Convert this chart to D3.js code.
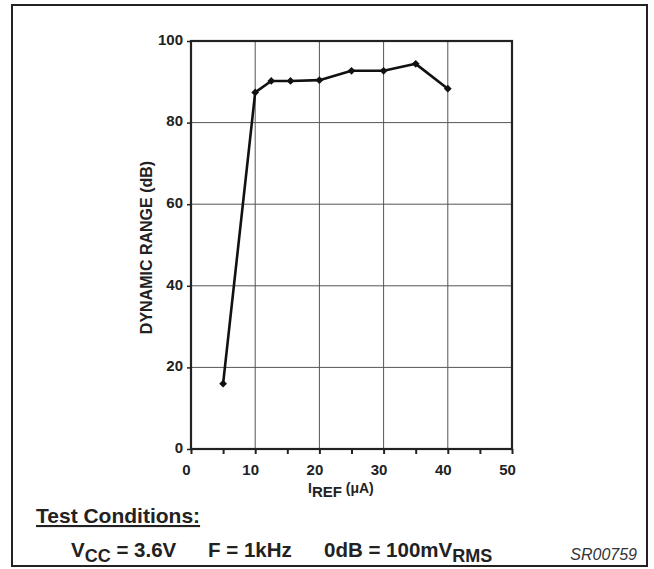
<!DOCTYPE html>
<html><head><meta charset="utf-8">
<script src="https://cdn.jsdelivr.net/npm/d3@7"></script>
<style>
body{margin:0;background:#fff;}
svg{display:block;font-family:"Liberation Sans",Arial,sans-serif;}
</style></head>
<body><svg id="c" width="654" height="569"></svg>
<script>
const iref = [5, 10, 12.5, 15.5, 20, 25, 30, 35, 40];
const dynRange = [16, 87.4, 90.2, 90.2, 90.4, 92.7, 92.7, 94.4, 88.3];
const xTicks = [0, 10, 20, 30, 40, 50];
const xMinor = [5, 15, 25, 35, 45];
const yTicks = [0, 20, 40, 60, 80, 100];

const FONT = "Liberation Sans, Arial, sans-serif";
const svg = d3.select("#c");
const L = 191, R = 512, T = 41, B = 449;
const x = d3.scaleLinear().domain([0, 50]).range([L, R]);
const y = d3.scaleLinear().domain([0, 100]).range([B, T]);

// outer frame
svg.append("rect").attr("x", 12).attr("y", 5).attr("width", 635).attr("height", 561)
  .attr("fill", "none").attr("stroke", "#222").attr("stroke-width", 2);

// gridlines
const g = svg.append("g");
g.selectAll(".vx").data(xTicks.slice(1, -1)).join("line")
  .attr("x1", d => x(d)).attr("x2", d => x(d)).attr("y1", T).attr("y2", B)
  .attr("stroke", "#555").attr("stroke-width", 1);
g.selectAll(".hy").data(yTicks.slice(1, -1)).join("line")
  .attr("x1", L).attr("x2", R).attr("y1", d => y(d)).attr("y2", d => y(d))
  .attr("stroke", "#555").attr("stroke-width", 1);

// axes
const xa = svg.append("g").attr("transform", `translate(0,${B})`)
  .call(d3.axisBottom(x).tickValues(xTicks.concat(xMinor)).tickSize(5).tickPadding(3)
    .tickFormat(d => xTicks.includes(d) ? d : ""));
xa.select(".domain").remove();
xa.selectAll(".tick line").attr("stroke", "#222").attr("stroke-width", 2);
xa.selectAll(".tick text").attr("font-size", 15).attr("font-weight", "bold").attr("fill", "#222")
  .attr("font-family", FONT).attr("dy", "1.2em").attr("dx", -5);

const ya = svg.append("g").attr("transform", `translate(${L},0)`)
  .call(d3.axisLeft(y).tickValues(yTicks).tickSize(4).tickPadding(4));
ya.select(".domain").remove();
ya.selectAll(".tick line").attr("stroke", "#222").attr("stroke-width", 1.5);
ya.selectAll(".tick text").attr("font-size", 15).attr("font-weight", "bold").attr("fill", "#222")
  .attr("font-family", FONT).attr("dy", "0.22em");

// plot frame
svg.append("rect").attr("x", L).attr("y", T).attr("width", R - L).attr("height", B - T)
  .attr("fill", "none").attr("stroke", "#222").attr("stroke-width", 2.2);

// data line
const pts = iref.map((v, i) => [v, dynRange[i]]);
svg.append("path").datum(pts)
  .attr("d", d3.line().x(d => x(d[0])).y(d => y(d[1])))
  .attr("fill", "none").attr("stroke", "#111").attr("stroke-width", 2.6).attr("stroke-linejoin", "round");
svg.selectAll(".pt").data(pts).join("path")
  .attr("transform", d => `translate(${x(d[0])},${y(d[1])}) rotate(45)`)
  .attr("d", d3.symbol().type(d3.symbolSquare).size(30))
  .attr("fill", "#111");

// y axis label
svg.append("text").attr("transform", `translate(151.5,247.5) rotate(-90)`)
  .attr("text-anchor", "middle").attr("font-size", 16).attr("font-weight", "bold").attr("fill", "#222")
  .text("DYNAMIC RANGE (dB)");

// x axis label
const xl = svg.append("text").attr("x", 308).attr("y", 493)
  .attr("font-weight", "bold").attr("fill", "#222").attr("font-size", 14);
xl.append("tspan").text("I");
xl.append("tspan").attr("dy", 4).attr("font-size", 15).text("REF");
xl.append("tspan").attr("dy", -4).attr("font-size", 14).text(" (μA)");

// test conditions
svg.append("text").attr("x", 36).attr("y", 523).attr("font-size", 21).attr("font-weight", "bold")
  .attr("fill", "#222").attr("text-decoration", "underline").text("Test Conditions:");

const tc = svg.append("text").attr("x", 71).attr("y", 557).attr("font-size", 20.5).attr("font-weight", "bold").attr("fill", "#222");
tc.append("tspan").text("V");
tc.append("tspan").attr("dy", 5).attr("font-size", 18).text("CC");
tc.append("tspan").attr("dy", -5).text(" = 3.6V");
tc.append("tspan").attr("x", 208).text("F = 1kHz");
tc.append("tspan").attr("x", 324).text("0dB = 100mV");
tc.append("tspan").attr("dy", 5).attr("font-size", 18).text("RMS");

svg.append("text").attr("x", 637).attr("y", 560).attr("text-anchor", "end").attr("font-size", 16)
  .attr("font-style", "italic").attr("fill", "#333").text("SR00759");
</script></body></html>
